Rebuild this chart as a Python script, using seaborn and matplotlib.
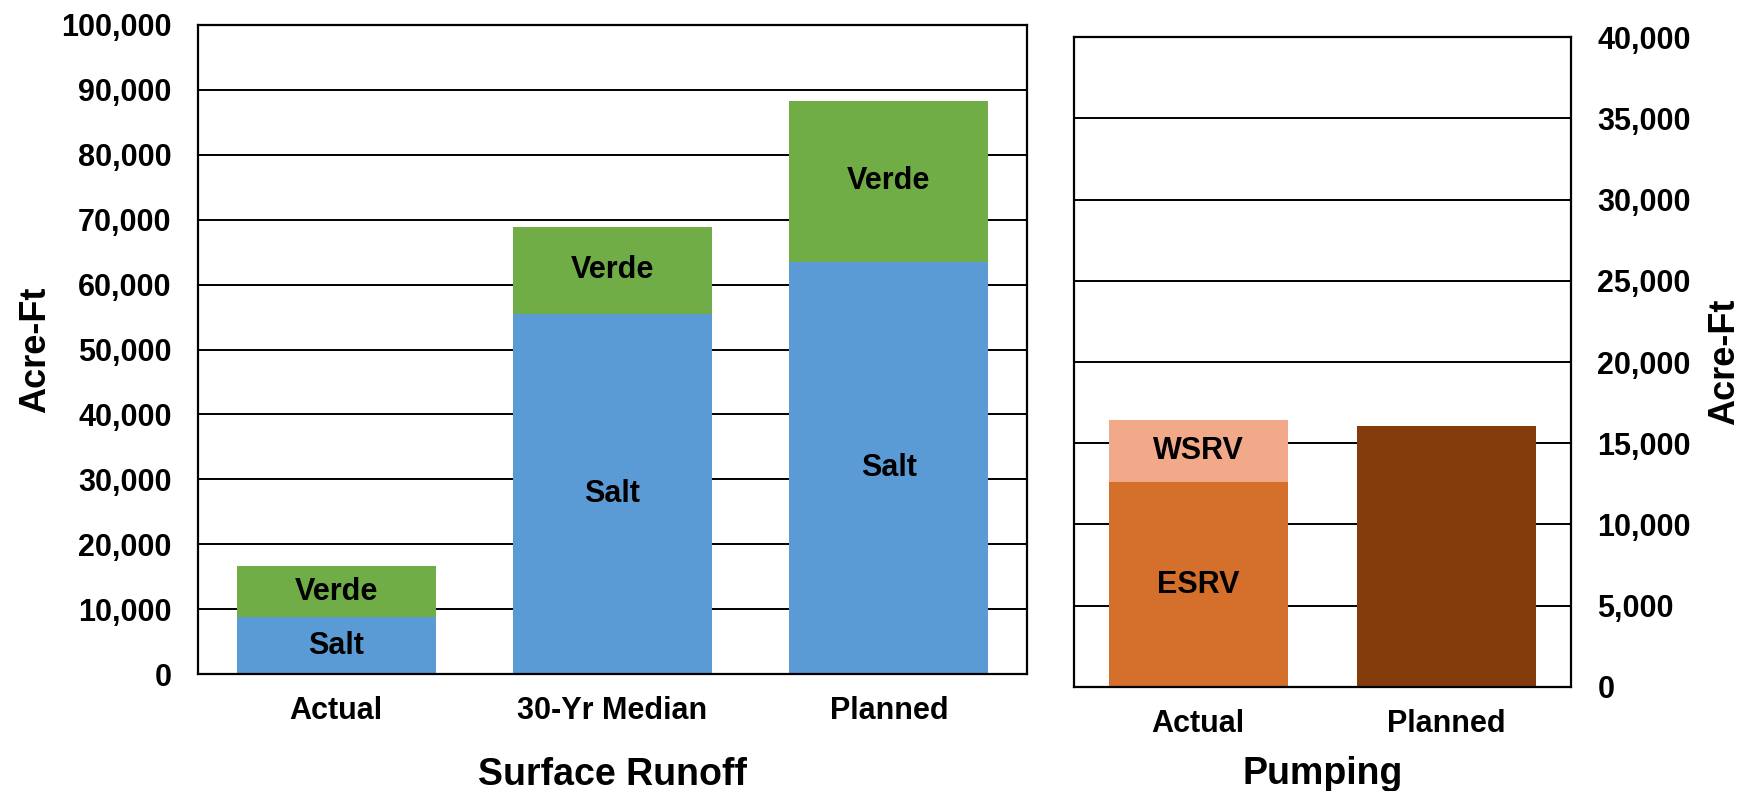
import pandas as pd
import matplotlib.pyplot as plt
import matplotlib.ticker as mticker
import seaborn as sns

# surface runoff (acre-ft)
runoff_cats = ["Actual", "30-Yr Median", "Planned"]
salt = [8780, 55480, 63480]
verde = [7850, 13440, 24870]

# pumping (acre-ft)
pump_cats = ["Actual", "Planned"]
esrv = [12590, None]
wsrv = [3850, None]
planned_pump = [None, 16090]

SALT_C = "#5B9BD5"
VERDE_C = "#70AD47"
ESRV_C = "#D46F2C"
WSRV_C = "#F2A98A"
PLAN_C = "#843C0C"

FONT = "Liberation Sans"
TICK_FS = 22


def style_axes(ax):
    ax.set_facecolor("white")
    ax.grid(False)
    ax.yaxis.grid(True, color="black", lw=1.4)
    ax.set_axisbelow(True)
    for s in ax.spines.values():
        s.set_visible(True)
        s.set_color("black")
        s.set_linewidth(1.6)
    ax.tick_params(length=0, labelcolor="black")
    ax.yaxis.set_major_formatter(mticker.StrMethodFormatter("{x:,.0f}"))
    for lab in ax.get_xticklabels() + ax.get_yticklabels():
        lab.set_fontweight("bold")
        lab.set_fontsize(TICK_FS)
        lab.set_fontfamily(FONT)


def seg_label(ax, x, y, text):
    ax.text(x, y, text, ha="center", va="center", fontsize=TICK_FS,
            fontweight="bold", family=FONT, color="black")


def plot_runoff(ax):
    df = pd.DataFrame({"cat": runoff_cats, "salt": salt, "verde": verde})
    df["total"] = df["salt"] + df["verde"]
    # stacked: total first, salt drawn over it
    sns.barplot(data=df, x="cat", y="total", order=runoff_cats, color=VERDE_C,
                width=0.72, saturation=1, linewidth=0, ax=ax)
    sns.barplot(data=df, x="cat", y="salt", order=runoff_cats, color=SALT_C,
                width=0.72, saturation=1, linewidth=0, ax=ax)
    for i, row in df.iterrows():
        seg_label(ax, i, row["salt"] / 2, "Salt")
        seg_label(ax, i, row["salt"] + row["verde"] / 2, "Verde")
    ax.set_ylim(0, 100000)
    ax.set_xlim(-0.5, 2.5)
    ax.set_yticks(range(0, 100001, 10000))
    style_axes(ax)
    ax.tick_params(axis="x", pad=16)
    ax.tick_params(axis="y", pad=19)
    ax.set_xlabel("Surface Runoff", fontsize=27, fontweight="bold", family=FONT,
                  color="black", labelpad=22)
    ax.set_ylabel("Acre-Ft", fontsize=26, fontweight="bold", family=FONT,
                  color="black", labelpad=6)


def plot_pumping(ax):
    df = pd.DataFrame({"cat": pump_cats, "esrv": esrv, "wsrv": wsrv, "planned": planned_pump})
    act = df[df["cat"] == "Actual"].copy()
    act["total"] = act["esrv"] + act["wsrv"]
    plan = df[df["cat"] == "Planned"]
    sns.barplot(data=act, x="cat", y="total", order=pump_cats, color=WSRV_C,
                width=0.72, saturation=1, linewidth=0, ax=ax)
    sns.barplot(data=act, x="cat", y="esrv", order=pump_cats, color=ESRV_C,
                width=0.72, saturation=1, linewidth=0, ax=ax)
    sns.barplot(data=plan, x="cat", y="planned", order=pump_cats, color=PLAN_C,
                width=0.72, saturation=1, linewidth=0, ax=ax)
    r = act.iloc[0]
    seg_label(ax, 0, r["esrv"] / 2, "ESRV")
    seg_label(ax, 0, r["esrv"] + r["wsrv"] / 2, "WSRV")
    ax.set_ylim(0, 40000)
    ax.set_xlim(-0.5, 1.5)
    ax.set_yticks(range(0, 40001, 5000))
    ax.yaxis.tick_right()
    ax.yaxis.set_label_position("right")
    style_axes(ax)
    ax.tick_params(axis="x", pad=16)
    ax.tick_params(axis="y", pad=19)
    ax.set_xlabel("Pumping", fontsize=27, fontweight="bold", family=FONT,
                  color="black", labelpad=12)
    ax.set_ylabel("Acre-Ft", fontsize=26, fontweight="bold", family=FONT,
                  color="black", labelpad=12)


def main():
    sns.set_theme(style="white")
    plt.rcParams["font.family"] = [FONT, "DejaVu Sans"]
    fig = plt.figure(figsize=(17.52, 7.91), dpi=100)
    ax1 = fig.add_axes([0.1130, 0.1479, 0.4732, 0.8205])
    ax2 = fig.add_axes([0.6130, 0.1315, 0.2837, 0.8217])
    plot_runoff(ax1)
    plot_pumping(ax2)
    fig.savefig("out.png", dpi=100, facecolor="white")
    plt.close(fig)


if __name__ == "__main__":
    main()
